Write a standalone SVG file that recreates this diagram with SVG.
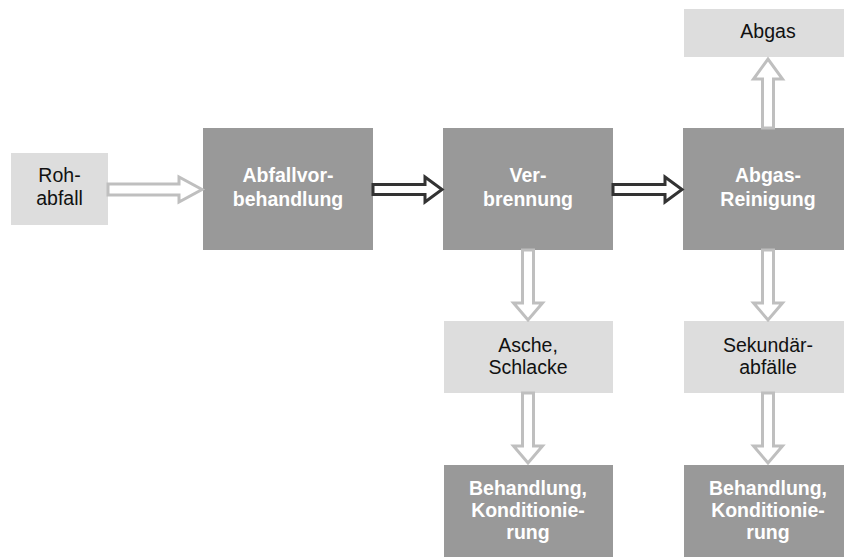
<svg xmlns="http://www.w3.org/2000/svg" width="844" height="557" viewBox="0 0 844 557">
<style>
.dark{fill:#999999}
.light{fill:#dddddd}
.tw{font-family:"Liberation Sans",Arial,sans-serif;font-size:19.5px;font-weight:bold;fill:#ffffff;text-anchor:middle}
.tb{font-family:"Liberation Sans",Arial,sans-serif;font-size:19.5px;fill:#111111;text-anchor:middle}
.al{fill:#ffffff;stroke:#bfbfbf;stroke-width:3;stroke-linejoin:miter}
.ad{fill:#ffffff;stroke:#333333;stroke-width:3;stroke-linejoin:miter}
</style>
<rect width="844" height="557" fill="#ffffff"/>
<g id="n-rohabfall"><rect class="light" x="11" y="153" width="97" height="72"/><text class="tb" x="59.5" y="182">Roh-</text><text class="tb" x="59.5" y="205">abfall</text></g>
<g id="n-vorbehandlung"><rect class="dark" x="203" y="128" width="170" height="122"/><text class="tw" x="288" y="182">Abfallvor-</text><text class="tw" x="288" y="206">behandlung</text></g>
<g id="n-verbrennung"><rect class="dark" x="443" y="128" width="170" height="122"/><text class="tw" x="528" y="182">Ver-</text><text class="tw" x="528" y="206">brennung</text></g>
<g id="n-reinigung"><rect class="dark" x="683" y="128" width="170" height="122"/><text class="tw" x="768" y="182">Abgas-</text><text class="tw" x="768" y="206">Reinigung</text></g>
<g id="n-abgas"><rect class="light" x="684" y="9" width="169" height="48"/><text class="tb" x="768" y="38">Abgas</text></g>
<g id="n-asche"><rect class="light" x="444" y="321" width="169" height="72"/><text class="tb" x="528" y="352">Asche,</text><text class="tb" x="528" y="374">Schlacke</text></g>
<g id="n-sekundaer"><rect class="light" x="684" y="321" width="169" height="72"/><text class="tb" x="768" y="352">Sekundär-</text><text class="tb" x="768" y="374">abfälle</text></g>
<g id="n-behandlung1"><rect class="dark" x="444" y="465" width="169" height="122"/><text class="tw" x="528" y="495">Behandlung,</text><text class="tw" x="528" y="517">Konditionie-</text><text class="tw" x="528" y="539">rung</text></g>
<g id="n-behandlung2"><rect class="dark" x="684" y="465" width="169" height="122"/><text class="tw" x="768" y="495">Behandlung,</text><text class="tw" x="768" y="517">Konditionie-</text><text class="tw" x="768" y="539">rung</text></g>
<g id="connectors">
<polygon class="al" points="108,184 179,184 179,177 202,189.5 179,202 179,195 108,195"/>
<polygon class="ad" points="373,184.5 425,184.5 425,177 442,189.5 425,202 425,194.5 373,194.5"/>
<polygon class="ad" points="613,184.5 665,184.5 665,177 682,189.5 665,202 665,194.5 613,194.5"/>
<polygon class="al" points="522.5,250 533.5,250 533.5,303 542.5,303 528,320 513.5,303 522.5,303"/>
<polygon class="al" points="522.5,393 533.5,393 533.5,446 542.5,446 528,463 513.5,446 522.5,446"/>
<polygon class="al" points="762.5,250 773.5,250 773.5,303 782.5,303 768,320 753.5,303 762.5,303"/>
<polygon class="al" points="762.5,393 773.5,393 773.5,446 782.5,446 768,463 753.5,446 762.5,446"/>
<polygon class="al" points="762.5,128 773.5,128 773.5,79 782.5,79 768,59 753.5,79 762.5,79"/>
</g>
</svg>
